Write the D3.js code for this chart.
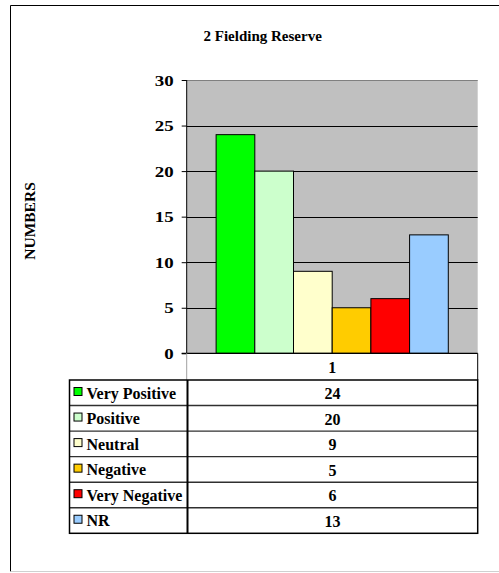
<!DOCTYPE html>
<html>
<head>
<meta charset="utf-8">
<script src="https://cdn.jsdelivr.net/npm/d3@7"></script>
<style>
  html, body { margin: 0; padding: 0; background: #fff; }
  svg { display: block; }
  text { font-family: "Liberation Serif", "Times New Roman", serif; font-weight: bold; fill: #000; }
</style>
</head>
<body>
<svg id="chart" width="499" height="573"></svg>
<script>
// Survey responses for "2 Fielding Reserve"
const title = "2 Fielding Reserve";
const yTitle = "NUMBERS";
const category = "1";
const seriesNames = ["Very Positive", "Positive", "Neutral", "Negative", "Very Negative", "NR"];
const seriesValues = [24, 20, 9, 5, 6, 13];
const seriesColors = ["#00FF00", "#CCFFCC", "#FFFFCC", "#FFCC00", "#FF0000", "#99CCFF"];
const yTicks = [0, 5, 10, 15, 20, 25, 30];

const svg = d3.select("#chart");

// Layout
const plot = { left: 186.7, right: 477.7, top: 80, bottom: 353.3 };
const catRowBottom = 380;
const table = { left: 69.5, divider: 187.5, right: 477.7, top: 380, rowH: 25.55 };

// Outer frame
svg.append("line").attr("x1", 10.5).attr("x2", 10.5).attr("y1", 5.5).attr("y2", 571.5).attr("stroke", "#000");
svg.append("line").attr("x1", 10.5).attr("x2", 499).attr("y1", 5.5).attr("y2", 5.5).attr("stroke", "#000");
svg.append("line").attr("x1", 10.5).attr("x2", 499).attr("y1", 571.5).attr("y2", 571.5).attr("stroke", "#d0d0d0");

// Title
svg.append("text")
  .attr("x", 262.7).attr("y", 41)
  .attr("text-anchor", "middle")
  .attr("font-size", 15)
  .text(title);

// Scales
const y = d3.scaleLinear().domain([0, 30]).range([plot.bottom, plot.top]);
const x = d3.scaleBand().domain(seriesNames).range([plot.left, plot.right])
  .paddingInner(0).paddingOuter(0.76);

// Plot background
svg.append("rect")
  .attr("x", plot.left).attr("y", plot.top)
  .attr("width", plot.right - plot.left).attr("height", plot.bottom - plot.top)
  .attr("fill", "#C0C0C0");

// Gridlines
svg.append("g").selectAll("line")
  .data(yTicks.filter(t => t > 0))
  .join("line")
  .attr("x1", plot.left).attr("x2", plot.right)
  .attr("y1", d => Math.round(y(d)) + 0.5).attr("y2", d => Math.round(y(d)) + 0.5)
  .attr("stroke", d => d === 30 ? "#808080" : "#000")
  .attr("stroke-width", 1);

// Bars
svg.append("g").selectAll("rect")
  .data(seriesNames.map((n, i) => ({ name: n, value: seriesValues[i], color: seriesColors[i] })))
  .join("rect")
  .attr("x", d => x(d.name))
  .attr("y", d => y(d.value))
  .attr("width", x.bandwidth())
  .attr("height", d => y(0) - y(d.value))
  .attr("fill", d => d.color)
  .attr("stroke", "#000")
  .attr("stroke-width", 1);

// Y axis (labels are drawn wide, as in the original workbook chart)
const labelStretch = 1.35;
const yAxis = svg.append("g")
  .attr("transform", `translate(${plot.left},0)`)
  .call(d3.axisLeft(y).tickValues(yTicks).tickSize(5));
yAxis.select(".domain").attr("stroke", "#000").attr("d", `M0,${plot.top}V${plot.bottom}`);
yAxis.selectAll(".tick line").attr("stroke", "#000");
yAxis.selectAll(".tick text")
  .attr("font-family", "Liberation Serif, serif")
  .attr("font-weight", "bold")
  .attr("font-size", 14)
  .attr("x", -13 / labelStretch)
  .attr("transform", `scale(${labelStretch},1)`)
  .attr("dy", "0.36em");

// Baseline of the plot
svg.append("line")
  .attr("x1", plot.left - 5).attr("x2", plot.right)
  .attr("y1", plot.bottom).attr("y2", plot.bottom)
  .attr("stroke", "#000").attr("stroke-width", 1.2);

// Y axis title
svg.append("text")
  .attr("transform", `translate(35,221) rotate(-90)`)
  .attr("text-anchor", "middle")
  .attr("font-size", 15.5)
  .text(yTitle);

// Category row
svg.append("line").attr("x1", plot.left).attr("x2", plot.left)
  .attr("y1", plot.bottom).attr("y2", catRowBottom).attr("stroke", "#a0a0a0");
svg.append("line").attr("x1", plot.right).attr("x2", plot.right)
  .attr("y1", plot.bottom).attr("y2", catRowBottom).attr("stroke", "#000");
svg.append("text")
  .attr("x", (plot.left + plot.right) / 2).attr("y", 373)
  .attr("text-anchor", "middle")
  .attr("font-size", 16)
  .text(category);

// Data table
const tBottom = table.top + table.rowH * seriesNames.length;
const rows = svg.append("g").selectAll("g")
  .data(seriesNames.map((n, i) => ({ name: n, value: seriesValues[i], color: seriesColors[i], i })))
  .join("g")
  .attr("transform", d => `translate(0,${table.top + d.i * table.rowH})`);

rows.filter(d => d.i > 0).append("line")
  .attr("x1", table.left).attr("x2", table.right)
  .attr("y1", 0).attr("y2", 0)
  .attr("stroke", "#303030").attr("stroke-width", 1.4);

rows.append("rect")
  .attr("x", 74).attr("y", 7.5)
  .attr("width", 8).attr("height", 8)
  .attr("fill", d => d.color)
  .attr("stroke", "#000").attr("stroke-width", 1);

rows.append("text")
  .attr("x", 86.5).attr("y", 18.5)
  .attr("font-size", 16)
  .text(d => d.name);

rows.append("text")
  .attr("x", (table.divider + table.right) / 2).attr("y", 19)
  .attr("text-anchor", "middle")
  .attr("font-size", 16)
  .text(d => d.value);

// Table frame and column divider
svg.append("rect")
  .attr("x", table.left).attr("y", table.top)
  .attr("width", table.right - table.left).attr("height", tBottom - table.top)
  .attr("fill", "none").attr("stroke", "#000").attr("stroke-width", 1.5);
svg.append("line")
  .attr("x1", table.divider).attr("x2", table.divider)
  .attr("y1", table.top).attr("y2", tBottom)
  .attr("stroke", "#000").attr("stroke-width", 2);
</script>
</body>
</html>
